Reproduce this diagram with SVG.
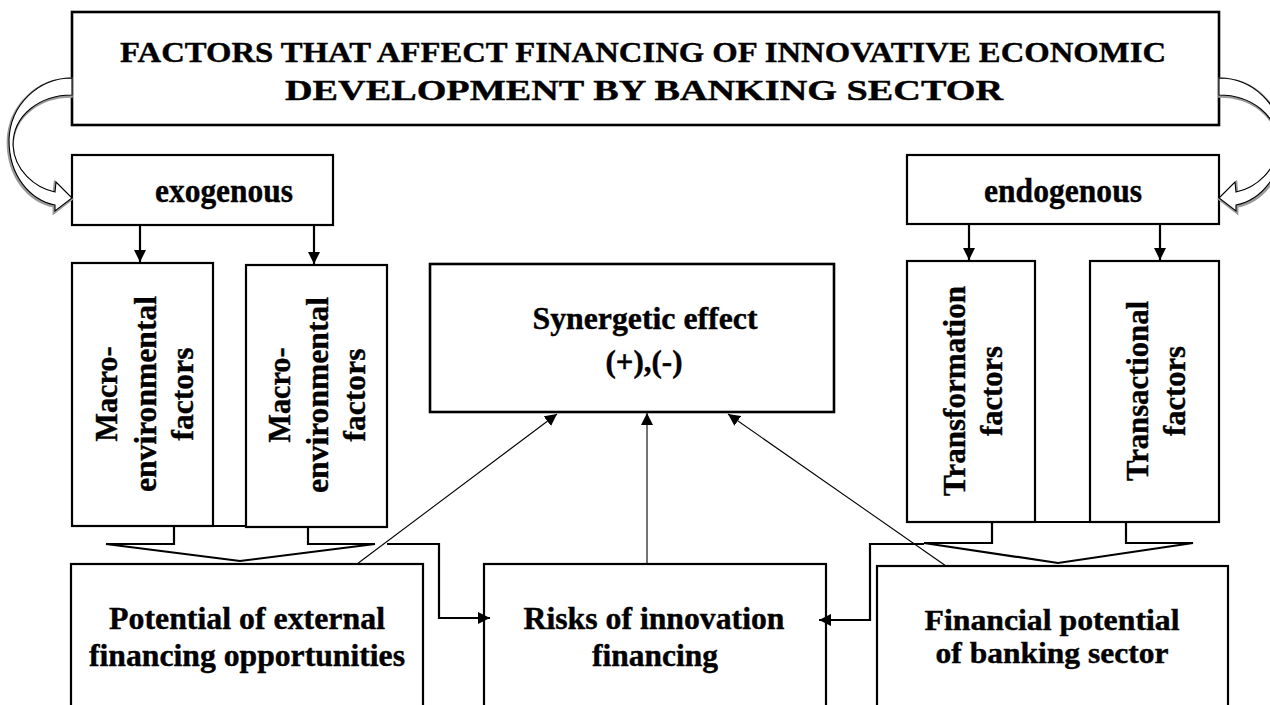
<svg xmlns="http://www.w3.org/2000/svg" width="1270" height="705" viewBox="0 0 1270 705">
<style>
.box{fill:#fff;stroke:#000;stroke-width:2.2}
.t{font-family:"Liberation Serif","Times New Roman",serif;font-weight:bold;fill:#000;stroke:#000;stroke-width:0.4}
.s28{font-size:30px}
.s29{font-size:31px}
.s29b{font-size:29px}
.s32{font-size:32px}
.s33{font-size:34px}
.ln{fill:none;stroke:#000;stroke-width:2.2}
.thin{fill:none;stroke:#000;stroke-width:1.1}
.ca{fill:#fff;stroke:#000;stroke-width:1.1}
.cas{fill:none;stroke:#9a9a9a;stroke-width:3.2}
</style>
<defs>
<marker id="ah" markerUnits="userSpaceOnUse" markerWidth="13" markerHeight="12" refX="12" refY="6" orient="auto">
<path d="M0,0 L12,6 L0,12 z" fill="#000"/>
</marker>
<path id="curve" d="M72,78 C38,78 10,105 9,140 C9,176 30,200 55,205 L55,211 L72,198 L56,182 L55,192 C35,188 14,170 13,145 C13,115 40,95 72,95 Z"/>
</defs>
<rect width="1270" height="705" fill="#fff"/>

<g id="title">
<rect class="box" x="72" y="12" width="1147" height="113" style="stroke-width:2.6"/>
<text class="t s28" x="643" y="62" text-anchor="middle" textLength="1046" lengthAdjust="spacingAndGlyphs">FACTORS THAT AFFECT FINANCING OF INNOVATIVE ECONOMIC</text>
<text class="t s28" x="644" y="100" text-anchor="middle" textLength="718" lengthAdjust="spacingAndGlyphs">DEVELOPMENT BY BANKING SECTOR</text>
</g>

<g id="exogenous">
<rect class="box" x="72" y="155" width="261" height="70"/>
<text class="t s33" x="224" y="202" text-anchor="middle" textLength="138" lengthAdjust="spacingAndGlyphs">exogenous</text>
</g>

<g id="endogenous">
<rect class="box" x="907" y="155" width="312" height="69"/>
<text class="t s33" x="1063" y="202" text-anchor="middle" textLength="158" lengthAdjust="spacingAndGlyphs">endogenous</text>
</g>

<g id="macro1">
<rect class="box" x="72" y="263" width="141" height="263"/>
<g transform="translate(0,394) rotate(-90)">
<text class="t s32" x="0" y="117" text-anchor="middle" textLength="95" lengthAdjust="spacingAndGlyphs">Macro-</text>
<text class="t s32" x="0" y="156" text-anchor="middle" textLength="196" lengthAdjust="spacingAndGlyphs">environmental</text>
<text class="t s32" x="0" y="193" text-anchor="middle" textLength="93" lengthAdjust="spacingAndGlyphs">factors</text>
</g>
</g>

<g id="macro2">
<rect class="box" x="246" y="265" width="141" height="262"/>
<g transform="translate(0,395) rotate(-90)">
<text class="t s32" x="0" y="290" text-anchor="middle" textLength="95" lengthAdjust="spacingAndGlyphs">Macro-</text>
<text class="t s32" x="0" y="328" text-anchor="middle" textLength="196" lengthAdjust="spacingAndGlyphs">environmental</text>
<text class="t s32" x="0" y="365" text-anchor="middle" textLength="93" lengthAdjust="spacingAndGlyphs">factors</text>
</g>
</g>

<g id="synergetic">
<rect class="box" x="430" y="264" width="404" height="148" style="stroke-width:2.6"/>
<text class="t s29" x="645" y="329" text-anchor="middle" textLength="225" lengthAdjust="spacingAndGlyphs">Synergetic effect</text>
<text class="t s29" x="644" y="372" text-anchor="middle" textLength="77" lengthAdjust="spacingAndGlyphs">(+),(-)</text>
</g>

<g id="transformation">
<rect class="box" x="907" y="261" width="128" height="261"/>
<g transform="translate(0,391) rotate(-90)">
<text class="t s32" x="0" y="965" text-anchor="middle" textLength="210" lengthAdjust="spacingAndGlyphs">Transformation</text>
<text class="t s32" x="0" y="1002" text-anchor="middle" textLength="90" lengthAdjust="spacingAndGlyphs">factors</text>
</g>
</g>

<g id="transactional">
<rect class="box" x="1090" y="261" width="129" height="261"/>
<g transform="translate(0,391) rotate(-90)">
<text class="t s32" x="0" y="1148" text-anchor="middle" textLength="180" lengthAdjust="spacingAndGlyphs">Transactional</text>
<text class="t s32" x="0" y="1185" text-anchor="middle" textLength="90" lengthAdjust="spacingAndGlyphs">factors</text>
</g>
</g>

<g id="potential">
<rect class="box" x="71" y="564" width="352" height="160"/>
<text class="t s29" x="247" y="629" text-anchor="middle" textLength="276" lengthAdjust="spacingAndGlyphs">Potential of external</text>
<text class="t s29" x="247" y="666" text-anchor="middle" textLength="316" lengthAdjust="spacingAndGlyphs">financing opportunities</text>
</g>

<g id="risks">
<rect class="box" x="484" y="564" width="342" height="160"/>
<text class="t s29" x="654" y="629" text-anchor="middle" textLength="261" lengthAdjust="spacingAndGlyphs">Risks of innovation</text>
<text class="t s29" x="655" y="666" text-anchor="middle" textLength="126" lengthAdjust="spacingAndGlyphs">financing</text>
</g>

<g id="financial">
<rect class="box" x="877" y="566" width="351" height="160"/>
<text class="t s29b" x="1052" y="630" text-anchor="middle" textLength="255" lengthAdjust="spacingAndGlyphs">Financial potential</text>
<text class="t s29b" x="1052" y="663" text-anchor="middle" textLength="233" lengthAdjust="spacingAndGlyphs">of banking sector</text>
</g>

<g id="connectors">
<use href="#curve" class="cas" transform="translate(-0.8,1.2)"/>
<use href="#curve" class="ca"/>
<g transform="translate(1291,0) scale(-1,1)">
<use href="#curve" class="cas" transform="translate(-0.8,1.2)"/>
<use href="#curve" class="ca"/>
</g>
<path class="ln" d="M140,225 V262" marker-end="url(#ah)"/>
<path class="ln" d="M314,225 V264" marker-end="url(#ah)"/>
<path class="ln" d="M969,224 V260" marker-end="url(#ah)"/>
<path class="ln" d="M1160,224 V260" marker-end="url(#ah)"/>
<path class="ln" d="M213,526 H246"/>
<path class="ln" d="M1035,522 H1090"/>
<path class="ln" d="M174,527 V544 H106 L240,561 L375,544 H308 V527"/>
<path class="ln" d="M992,522 V543 H924 L1058,563 L1193,543 H1126 V522"/>
<path class="ln" d="M387,544 H439 V618 H490" marker-end="url(#ah)"/>
<path class="ln" d="M924,544 H870 V620 H819" marker-end="url(#ah)"/>
<path class="thin" d="M357,564 L557,414" marker-end="url(#ah)"/>
<path class="thin" d="M647,564 V413" marker-end="url(#ah)"/>
<path class="thin" d="M946,566 L728,414" marker-end="url(#ah)"/>
</g>
</svg>
